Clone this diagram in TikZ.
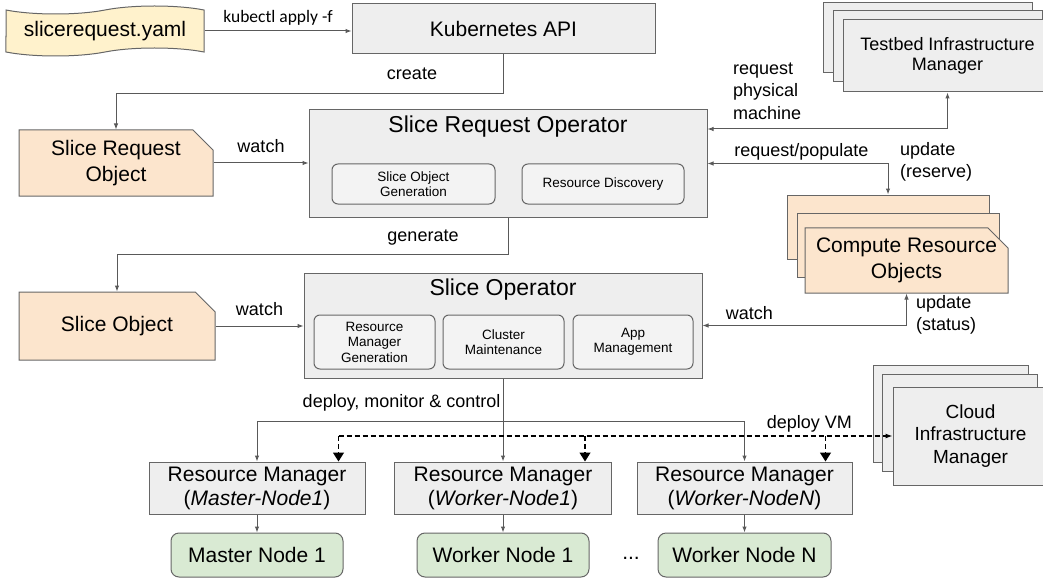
\documentclass[tikz,border=0pt]{standalone}
\usepackage{fontspec}
\setmainfont{Liberation Sans}
\newfontfamily\calibri{Carlito}
\usetikzlibrary{arrows.meta, shapes.misc, shapes.symbols, calc, positioning}

\definecolor{lineGray}{HTML}{666666}
\definecolor{arrowGray}{HTML}{595959}
\definecolor{boxFill}{HTML}{EEEEEE}
\definecolor{innerFill}{HTML}{F3F3F3}
\definecolor{objFill}{HTML}{FCE5CD}
\definecolor{yamlFill}{HTML}{FFF2CC}
\definecolor{nodeFill}{HTML}{D9EAD3}

\newcommand{\fsBig}{\fontsize{21}{26}\selectfont}
\newcommand{\fsTitle}{\fontsize{23}{27}\selectfont}
\newcommand{\fsLbl}{\fontsize{18}{22.5}\selectfont}
\newcommand{\fsSmall}{\fontsize{13.5}{15.5}\selectfont}

\tikzset{
    grayBox/.style={rectangle, draw=lineGray, fill=boxFill, line width=1pt, inner sep=0pt, align=center, font=\fsBig},
    innerBox/.style={grayBox, rounded corners=6pt, fill=innerFill, font=\fsSmall},
    nodeBox/.style={grayBox, rounded corners=8pt, fill=nodeFill},
    objBox/.style={chamfered rectangle, chamfered rectangle corners=north east, chamfered rectangle xsep=10pt, chamfered rectangle ysep=10pt,
        draw=lineGray, fill=objFill, line width=1pt, inner sep=0pt, align=center, font=\fsBig},
    edgeLbl/.style={font=\fsLbl, inner sep=2pt, align=left},
    conn/.style={draw=arrowGray, line width=1pt, -{Latex[length=6pt, width=4.5pt]}},
    connBoth/.style={conn, {Latex[length=6pt, width=4.5pt]}-{Latex[length=6pt, width=4.5pt]}},
    vmLink/.style={draw=black, line width=1.2pt, dash pattern=on 5pt off 3pt},
}

\begin{document}
\begin{tikzpicture}[x=1pt, y=-1pt]
    \useasboundingbox (0,0) rectangle (1043,580);

    % request file and API server
    \node[tape, tape bend top=in and out, tape bend bottom=in and out, tape bend height=8pt,
        draw=lineGray, fill=yamlFill, line width=1pt, minimum width=198pt, minimum height=50pt,
        font=\fsBig] (yaml) at (105,31) {slicerequest.yaml};
    \node[grayBox, minimum width=303pt, minimum height=50pt] (k8s) at (503.5,29) {Kubernetes API};

    % objects
    \node[objBox, minimum width=194pt, minimum height=66pt] (sro) at (116,163) {Slice Request\\Object};
    \node[objBox, minimum width=196pt, minimum height=68pt] (so) at (117,326) {Slice Object};

    % slice request operator
    \node[grayBox, minimum width=398pt, minimum height=107pt] (sreqop) at (508,163.5) {};
    \node[font=\fsTitle] (sreqopTitle) at (508,127) {Slice Request Operator};
    \node[innerBox, minimum width=163pt, minimum height=40pt] (sog) at (413.5,184) {Slice Object\\Generation};
    \node[innerBox, minimum width=162pt, minimum height=40pt] (rdisc) at (603,184) {Resource Discovery};

    % slice operator
    \node[grayBox, minimum width=398pt, minimum height=105pt] (sop) at (503,325.5) {};
    \node[font=\fsTitle] (sopTitle) at (503,290) {Slice Operator};
    \node[innerBox, minimum width=121pt, minimum height=54pt] (rmg) at (374.5,342) {Resource\\Manager\\Generation};
    \node[innerBox, minimum width=121pt, minimum height=54pt] (cmaint) at (503.5,342) {Cluster\\Maintenance};
    \node[innerBox, minimum width=120pt, minimum height=54pt] (appm) at (633,342) {App\\Management};

    % testbed infrastructure manager (stacked)
    \node[grayBox, minimum width=209pt, minimum height=70pt] (tbmBack) at (927.5,38) {};
    \node[grayBox, minimum width=209pt, minimum height=71pt] (tbmMid) at (937.5,46.5) {};
    \node[grayBox, minimum width=209pt, minimum height=72pt, font=\fontsize{18}{20.5}\selectfont] (tbm) at (947.5,56) {Testbed Infrastructure\\Manager};

    % compute resource objects (stacked)
    \node[objBox, minimum width=202pt, minimum height=64pt] (croBack) at (888,227) {};
    \node[objBox, minimum width=202pt, minimum height=64pt] (croMid) at (898,245) {};
    \node[objBox, minimum width=203pt, minimum height=65pt] (cro) at (906.5,260.5) {Compute Resource\\Objects};

    % cloud infrastructure manager (stacked)
    \node[grayBox, minimum width=155pt, minimum height=97pt] (cimBack) at (950.5,413.5) {};
    \node[grayBox, minimum width=155pt, minimum height=97pt] (cimMid) at (959.5,422.5) {};
    \node[grayBox, minimum width=155pt, minimum height=98pt, font=\fontsize{19}{22.5}\selectfont] (cim) at (970.5,436) {Cloud\\Infrastructure\\Manager};

    % resource managers and nodes
    \node[grayBox, minimum width=216pt, minimum height=52pt, font=\fontsize{21}{24}\selectfont] (rm1) at (257,488) {Resource Manager\\(\textit{Master-Node1})};
    \node[grayBox, minimum width=217pt, minimum height=52pt, font=\fontsize{21}{24}\selectfont] (rm2) at (503,488) {Resource Manager\\(\textit{Worker-Node1})};
    \node[grayBox, minimum width=215pt, minimum height=52pt, font=\fontsize{21}{24}\selectfont] (rm3) at (744.5,488) {Resource Manager\\(\textit{Worker-NodeN})};
    \node[nodeBox, minimum width=172pt, minimum height=44pt] (mn1) at (257,555) {Master Node 1};
    \node[nodeBox, minimum width=172pt, minimum height=44pt] (wn1) at (503,555) {Worker Node 1};
    \node[nodeBox, minimum width=173pt, minimum height=44pt] (wnN) at (744.5,555) {Worker Node N};
    \node[font=\fsBig] (dots) at (631,558) {...};

    % connectors
    \draw[conn] (yaml.east) -- node[above=2pt, font=\calibri\fontsize{17.5}{20}\selectfont] {kubectl apply -f} (yaml.east -| k8s.west);
    \draw[conn] (k8s.south) -- ++(0,39) -| (sro.north);
    \node[edgeLbl] (createLbl) at (412,74) {create};
    \draw[conn] (sro.east) -- node[edgeLbl, above=8pt] {watch} (sreqop.west |- sro.east);
    \draw[conn] (sreqop.south) -- ++(0,37) -| (so.north);
    \node[edgeLbl] (generateLbl) at (423,238) {generate};
    \draw[conn] (so.east) -- node[edgeLbl, above=8pt] {watch} (sop.west |- so.east);

    \draw[connBoth] ([yshift=34.5pt]sreqop.east) -| (tbm.south);
    \node[edgeLbl, anchor=west] (physLbl) at (731,91) {request\\physical\\machine};
    \draw[connBoth] (sreqop.east) -- node[edgeLbl, above=1pt, pos=0.52] {request/populate} (sreqop.east -| croBack.north) -- (croBack.north);
    \node[edgeLbl, anchor=west] (reserveLbl) at (898,162) {update\\(reserve)};
    \draw[connBoth] (sop.east) -- node[edgeLbl, above=3pt, pos=0.23] {watch} (sop.east -| cro.south) -- (cro.south);
    \node[edgeLbl, anchor=west] (statusLbl) at (914,315) {update\\(status)};

    \coordinate (split) at ([yshift=-43pt]sop.south);
    \draw[conn] (sop.south) -- node[edgeLbl, left, pos=0.29] {deploy, monitor \& control} (rm2.north);
    \draw[conn] (split) -| (rm1.north);
    \draw[conn] (split) -| (rm3.north);

    \foreach \r in {rm1, rm2, rm3} {
        \coordinate (\r Drop) at ([xshift=-27pt]\r.north east);
        \draw[vmLink, -{Triangle[length=9pt, width=11pt]}] (\r Drop |- cim.west) -- (\r Drop);
    }
    \draw[vmLink, -{Latex[length=7pt, width=5pt]}] (rm1Drop |- cim.west) -- node[edgeLbl, above=1pt, pos=0.85] {deploy VM} (cim.west);

    \draw[conn] (rm1) -- (mn1);
    \draw[conn] (rm2) -- (wn1);
    \draw[conn] (rm3) -- (wnN);
\end{tikzpicture}
\end{document}
